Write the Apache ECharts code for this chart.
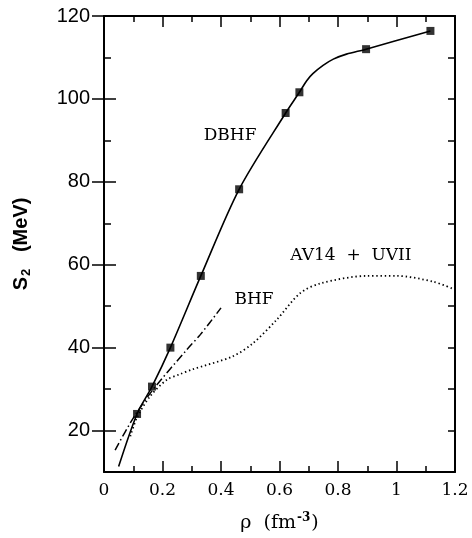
<!DOCTYPE html>
<html>
<head>
<meta charset="utf-8">
<script src="https://cdn.jsdelivr.net/npm/echarts@6/dist/echarts.min.js"></script>
<style>
  html, body { margin: 0; padding: 0; background: #fff; }
  #chart { width: 472px; height: 538px; }
</style>
</head>
<body>
<div id="chart"></div>
<script>
// DBHF calculated points (squares)
const dbhfRho = [0.113, 0.164, 0.227, 0.331, 0.462, 0.621, 0.668, 0.896, 1.116];
const dbhfS2 = [24.0, 30.6, 40.0, 57.3, 78.2, 96.6, 101.6, 112.0, 116.4];
// DBHF solid curve
const dbhfCurveRho = [0.05, 0.113, 0.164, 0.227, 0.331, 0.462, 0.621, 0.668, 0.693, 0.714, 0.749, 0.784, 0.829, 0.896, 1.116];
const dbhfCurveS2 = [11.3, 24.0, 30.6, 40.0, 57.3, 78.2, 96.6, 101.6, 104.4, 106.1, 108.1, 109.6, 110.8, 112.0, 116.4];
// BHF dash-dot curve
const bhfRho = [0.038, 0.1, 0.169, 0.283, 0.33, 0.4];
const bhfS2 = [15.3, 23.0, 30.0, 39.5, 43.2, 49.6];
// AV14 + UVII dotted curve
const avRho = [0.09, 0.112, 0.157, 0.214, 0.26, 0.3, 0.44, 0.51, 0.59, 0.67, 0.74, 0.9, 1.0, 1.126, 1.2];
const avS2 = [18.6, 23.0, 28.2, 32.2, 33.6, 34.7, 37.9, 41.1, 46.7, 53.1, 55.5, 57.3, 57.3, 55.9, 54.0];
// axis ticks
const yMajorTicks = [20, 40, 60, 80, 100, 120];

const pairs = (xs, ys) => xs.map((x, i) => [x, ys[i]]);

const chart = echarts.init(document.getElementById('chart'));

const serif = 'DejaVu Serif';
const sans = 'Liberation Sans';

const xBase = {
  type: 'value', min: 0, max: 1.2, interval: 0.2,
  axisLine: { show: true, onZero: false, lineStyle: { color: '#000', width: 2 } },
  axisTick: { show: true, inside: true, length: 11, lineStyle: { color: '#000', width: 1.5 } },
  minorTick: { show: true, splitNumber: 2, length: 6, lineStyle: { color: '#000', width: 1.5 } },
  splitLine: { show: false }
};
const yBase = {
  type: 'value', min: 10, max: 120, interval: 10,
  axisLine: { show: true, onZero: false, lineStyle: { color: '#000', width: 2 } },
  axisTick: { show: true, inside: true, length: 7, lineStyle: { color: '#000', width: 1.5 } },
  splitLine: { show: false }
};
const yMajor = {
  type: 'value', min: 10, max: 120, interval: 10,
  axisLine: { show: false },
  axisTick: { show: true, inside: true, length: 12, customValues: yMajorTicks, lineStyle: { color: '#000', width: 1.5 } },
  axisLabel: { show: false },
  splitLine: { show: false }
};

const label = (text, coord) => ({
  coord: coord, symbolSize: 0,
  label: { show: true, position: 'inside', formatter: text, color: '#000', fontFamily: serif, fontSize: 17 }
});

chart.setOption({
  animation: false,
  backgroundColor: '#fff',
  grid: { left: 104, right: 17, top: 16, bottom: 66 },
  xAxis: [
    Object.assign({}, xBase, {
      position: 'bottom',
      axisLabel: { show: true, margin: 10, color: '#000', fontFamily: serif, fontSize: 17,
        formatter: v => String(Math.round(v * 10) / 10) },
      name: '{a|ρ  (fm}{sup|-3}{a|)}', nameLocation: 'middle', nameGap: 40,
      nameTextStyle: {
        color: '#000', fontFamily: serif, fontSize: 19,
        rich: {
          a: { fontFamily: serif, fontSize: 19, color: '#000', lineHeight: 22 },
          sup: { fontFamily: serif, fontSize: 12, fontWeight: 'bold', color: '#000', verticalAlign: 'top', padding: [0, 1, 8, 1] }
        }
      }
    }),
    Object.assign({}, xBase, { position: 'top', axisLabel: { show: false } })
  ],
  yAxis: [
    Object.assign({}, yBase, {
      position: 'left',
      axisLabel: { show: true, margin: 14, color: '#000', fontFamily: sans, fontSize: 20,
        customValues: yMajorTicks },
      name: '{s|S}{sub|2}   {s|(MeV)}', nameLocation: 'middle', nameGap: 71, nameRotate: 90,
      nameTextStyle: {
        color: '#000', fontFamily: sans, fontWeight: 'bold', fontSize: 20,
        rich: {
          s: { fontFamily: sans, fontWeight: 'bold', fontSize: 20, color: '#000', lineHeight: 24 },
          sub: { fontFamily: sans, fontWeight: 'bold', fontSize: 13, color: '#000', verticalAlign: 'top', padding: [11, 0, 0, 1] }
        }
      }
    }),
    Object.assign({}, yBase, { position: 'right', axisLabel: { show: false } }),
    Object.assign({}, yMajor, { position: 'left' }),
    Object.assign({}, yMajor, { position: 'right' })
  ],
  series: [
    {
      name: 'DBHF', type: 'line', data: pairs(dbhfCurveRho, dbhfCurveS2),
      smooth: 0.3, showSymbol: false,
      lineStyle: { color: '#000', width: 1.6 },
      markPoint: { data: [label('DBHF', [0.431, 91.1])] }
    },
    {
      name: 'DBHF points', type: 'scatter', data: pairs(dbhfRho, dbhfS2),
      symbol: 'rect', symbolSize: 8, itemStyle: { color: '#000' }
    },
    {
      name: 'BHF', type: 'line', data: pairs(bhfRho, bhfS2),
      smooth: 0.3, showSymbol: false,
      lineStyle: { color: '#000', width: 1.5, type: [8, 3, 1.5, 3] },
      markPoint: { data: [label('BHF', [0.513, 51.5])] }
    },
    {
      name: 'AV14 + UVII', type: 'line', data: pairs(avRho, avS2),
      smooth: 0.3, showSymbol: false,
      lineStyle: { color: '#000', width: 1.8, type: [1.4, 2.8] },
      markPoint: { data: [label('AV14  +  UVII', [0.844, 62.2])] }
    }
  ]
});
</script>
</body>
</html>
